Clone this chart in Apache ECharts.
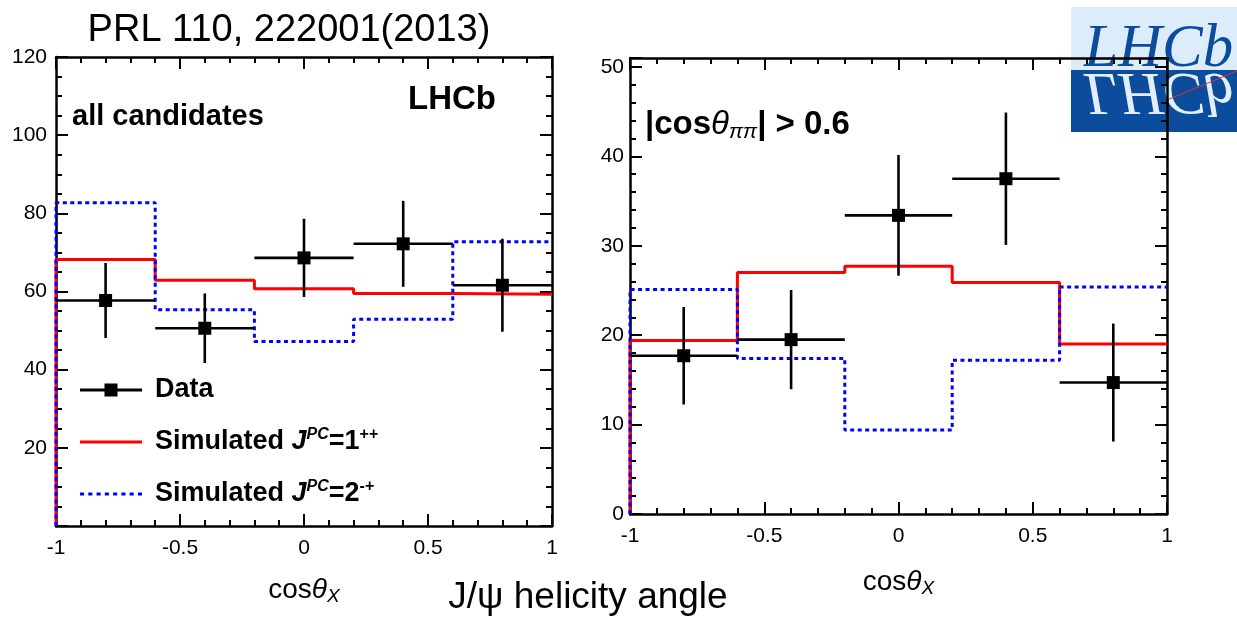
<!DOCTYPE html>
<html><head><meta charset="utf-8">
<script src="https://cdn.jsdelivr.net/npm/echarts@6/dist/echarts.min.js"></script>
<style>html,body{margin:0;padding:0;background:#fff}#c{width:1237px;height:617px}</style>
</head><body><div id="c"></div>
<script>
// ---- data ----
const binEdges = [-1, -0.6, -0.2, 0.2, 0.6, 1];
const binCenters = [-0.8, -0.4, 0, 0.4, 0.8];
const leftData = [57.7, 50.6, 68.6, 72.2, 61.6];
const leftErr = [9.6, 8.9, 10.0, 11.0, 11.9];
const leftSim1pp = [68.2, 62.9, 60.7, 59.5, 59.3];
const leftSim2mp = [82.7, 55.3, 47.2, 52.9, 72.7];
const rightData = [17.7, 19.5, 33.4, 37.5, 14.7];
const rightErr = [5.45, 5.55, 6.75, 7.4, 6.6];
const rightSim1pp = [19.4, 27.0, 27.7, 25.9, 19.0];
const rightSim2mp = [25.1, 17.4, 9.4, 17.2, 25.4];
const seriesNames = ['Data', 'Simulated 1++', 'Simulated 2-+'];

const FONT = '"Liberation Sans", Arial, Helvetica, sans-serif';
const SERIF = '"Liberation Serif", "DejaVu Serif", serif';

function steps(vals) {
  const pts = [[binEdges[0], 0]];
  vals.forEach((v, i) => { pts.push([binEdges[i], v]); pts.push([binEdges[i + 1], v]); });
  return pts;
}

function dataSeries(xi, yi, vals, errs) {
  return {
    type: 'custom', name: seriesNames[0], xAxisIndex: xi, yAxisIndex: yi, z: 5,
    itemStyle: { color: '#000' },
    data: binCenters.map((c, i) => [c, vals[i], errs[i], binEdges[i], binEdges[i + 1]]),
    encode: { x: 0, y: 1 },
    renderItem: (params, api) => {
      const x = api.value(0), y = api.value(1), e = api.value(2), x0 = api.value(3), x1 = api.value(4);
      const c = api.coord([x, y]), lo = api.coord([x, y - e]), hi = api.coord([x, y + e]);
      const l = api.coord([x0, y]), r = api.coord([x1, y]);
      const st = { stroke: '#000', lineWidth: 2.6 };
      return { type: 'group', children: [
        { type: 'line', shape: { x1: l[0], y1: l[1], x2: r[0], y2: r[1] }, style: st },
        { type: 'line', shape: { x1: lo[0], y1: lo[1], x2: hi[0], y2: hi[1] }, style: st },
        { type: 'rect', shape: { x: c[0] - 6.5, y: c[1] - 6.5, width: 13, height: 13 }, style: { fill: '#000' } }
      ] };
    }
  };
}
function redSeries(xi, yi, vals) {
  return { type: 'line', name: seriesNames[1], xAxisIndex: xi, yAxisIndex: yi, data: steps(vals),
    symbol: 'none', clip: false, z: 3, color: '#ff0000', itemStyle: { color: '#ff0000' },
    lineStyle: { color: '#ff0000', width: 3 } };
}
function blueSeries(xi, yi, vals) {
  return { type: 'line', name: seriesNames[2], xAxisIndex: xi, yAxisIndex: yi, data: steps(vals),
    symbol: 'none', clip: false, z: 4, color: '#0000ff', itemStyle: { color: '#0000ff' },
    lineStyle: { color: '#0000ff', width: 3, type: [4, 3.5] } };
}

const lineSt = { color: '#000', width: 2.5 };
const tickSt = { color: '#000', width: 2 };
const nameRich = {
  t: { fontFamily: FONT, fontStyle: 'italic', fontSize: 28, color: '#000', lineHeight: 32 },
  s: { fontFamily: FONT, fontStyle: 'italic', fontSize: 19, color: '#000', lineHeight: 19, verticalAlign: 'bottom' }
};
function xAxes(gi, nameGap) {
  const base = { type: 'value', gridIndex: gi, min: -1, max: 1, interval: 0.5, splitLine: { show: false },
    axisLine: { onZero: false, lineStyle: lineSt },
    axisTick: { inside: true, length: 12, lineStyle: tickSt },
    minorTick: { show: true, splitNumber: 5, length: 6, lineStyle: tickSt } };
  return [
    Object.assign({}, base, { position: 'bottom',
      axisLabel: { color: '#000', fontFamily: FONT, fontSize: 21, margin: 12 },
      name: 'cos{t|θ}{s|X}', nameLocation: 'middle', nameGap: nameGap,
      nameTextStyle: { color: '#000', fontFamily: FONT, fontSize: 28, lineHeight: 32, rich: nameRich } }),
    Object.assign({}, base, { position: 'top', axisLabel: { show: false } })
  ];
}
function yAxes(gi, max, interval, minorSplit, hideMin, hideMax, margin) {
  const base = { type: 'value', gridIndex: gi, min: 0, max: max, interval: interval, splitLine: { show: false },
    axisLine: { onZero: false, lineStyle: lineSt },
    axisTick: { inside: true, length: 12, lineStyle: tickSt },
    minorTick: { show: true, splitNumber: minorSplit, length: 6, lineStyle: tickSt } };
  return [
    Object.assign({}, base, { position: 'left',
      axisLabel: { color: '#000', fontFamily: FONT, fontSize: 21, margin: margin, showMinLabel: !hideMin, showMaxLabel: !hideMax } }),
    Object.assign({}, base, { position: 'right', axisLabel: { show: false } })
  ];
}

const legendRich = {
  j: { fontFamily: FONT, fontWeight: 'bold', fontStyle: 'italic', fontSize: 27, color: '#000', lineHeight: 30 },
  sp: { fontFamily: FONT, fontWeight: 'bold', fontStyle: 'italic', fontSize: 16, color: '#000', lineHeight: 15, verticalAlign: 'top' },
  su: { fontFamily: FONT, fontWeight: 'bold', fontSize: 16, color: '#000', lineHeight: 15, verticalAlign: 'top' }
};
const legendLabels = {
  'Data': 'Data',
  'Simulated 1++': 'Simulated {j|J}{sp|PC}=1{su|++}',
  'Simulated 2-+': 'Simulated {j|J}{sp|PC}=2{su|-+}'
};

const option = {
  animation: false,
  backgroundColor: '#fff',
  grid: [
    { left: 56, top: 57, width: 496, height: 469 },
    { left: 630, top: 58, width: 537, height: 456 }
  ],
  xAxis: [].concat(xAxes(0, 48), xAxes(1, 52)),
  yAxis: [].concat(yAxes(0, 120, 20, 4, true, false, 9), yAxes(1, 51, 10, 5, false, true, 6)),
  legend: {
    left: 75, top: 370, orient: 'vertical', itemGap: 22, itemWidth: 62, itemHeight: 14,
    selectedMode: false,
    itemStyle: { borderWidth: 0 },
    data: [
      { name: seriesNames[0], icon: 'path://M0,5 H62 V8 H0 Z M24.5,0 H37.5 V13 H24.5 Z' },
      { name: seriesNames[1], icon: 'path://M0,5 H62 V8 H0 Z M0,0 H0.01 V13 H0 Z' },
      { name: seriesNames[2], icon: 'path://M0,5 H4 V8 H0 Z M8,5 H12 V8 H8 Z M16,5 H20 V8 H16 Z M24,5 H28 V8 H24 Z M32,5 H36 V8 H32 Z M40,5 H44 V8 H40 Z M48,5 H52 V8 H48 Z M56,5 H60 V8 H56 Z M0,0 H0.01 V13 H0 Z' }
    ],
    formatter: n => legendLabels[n],
    textStyle: { color: '#000', fontFamily: FONT, fontWeight: 'bold', fontSize: 27, lineHeight: 30, padding: [0, 0, 0, 8], rich: legendRich }
  },
  series: [
    redSeries(0, 0, leftSim1pp), blueSeries(0, 0, leftSim2mp), dataSeries(0, 0, leftData, leftErr),
    redSeries(2, 2, rightSim1pp), blueSeries(2, 2, rightSim2mp), dataSeries(2, 2, rightData, rightErr)
  ],
  graphic: [
    { type: 'text', x: 289, y: 31, style: { text: 'PRL 110, 222001(2013)', font: '38px ' + FONT, fill: '#000', align: 'center', verticalAlign: 'middle' } },
    { type: 'text', x: 496, y: 100, style: { text: 'LHCb', font: 'bold 33px ' + FONT, fill: '#000', align: 'right', verticalAlign: 'middle' } },
    { type: 'text', x: 72, y: 117, style: { text: 'all candidates', font: 'bold 29px ' + FONT, fill: '#000', align: 'left', verticalAlign: 'middle' } },
    { type: 'text', x: 645, y: 125, style: {
      text: '|cos{t|θ}{s|ππ}| > 0.6', fill: '#000', align: 'left', verticalAlign: 'middle',
      fontFamily: FONT, fontWeight: 'bold', fontSize: 33, lineHeight: 36,
      rich: {
        t: { fontFamily: FONT, fontStyle: 'italic', fontSize: 33, lineHeight: 36, fill: '#000' },
        s: { fontFamily: FONT, fontStyle: 'italic', fontSize: 21, lineHeight: 21, verticalAlign: 'bottom', fill: '#000' }
      } } },
    { type: 'text', x: 588, y: 598, style: { text: 'J/ψ helicity angle', font: '37px ' + FONT, fill: '#000', align: 'center', verticalAlign: 'middle' } },
    { type: 'group', z: 100, children: [
      { type: 'rect', shape: { x: 1071, y: 7, width: 166, height: 63 }, style: { fill: '#dcecfa' } },
      { type: 'rect', shape: { x: 1071, y: 70, width: 166, height: 62 }, style: { fill: '#0b4c9c' } },
      { type: 'group', x: 1084, y: 70, scaleY: -1, children: [
        { type: 'text', style: { text: 'LHCb', x: 0, y: -20, font: 'italic 61px ' + SERIF, fill: '#e2eefa', verticalAlign: 'middle', align: 'left' } }
      ] },
      { type: 'text', x: 1084, y: 50, style: { text: 'LHCb', font: 'italic 61px ' + SERIF, fill: '#0b4c9c', verticalAlign: 'middle', align: 'left' } },
      { type: 'line', shape: { x1: 1167, y1: 100, x2: 1237, y2: 71 }, style: { stroke: '#d33', lineWidth: 1 } }
    ] }
  ]
};
echarts.init(document.getElementById('c'), null, { renderer: 'canvas' }).setOption(option);
</script>
</body></html>
